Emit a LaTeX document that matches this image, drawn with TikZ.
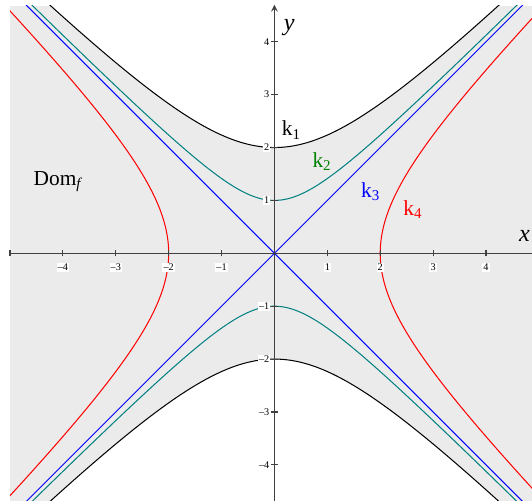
\documentclass[tikz,border=0pt]{standalone}
\usepackage{fontspec}
\setmainfont{Liberation Serif}
\begin{document}
\begin{tikzpicture}[x=1cm,y=1cm,
  curve/.style={line width=0.55pt},
  axis/.style={line width=0.6pt,draw=black!75},
  ticklbl/.style={fill=white,inner sep=0.6pt,font=\fontsize{5.5}{6}\selectfont},
  klbl/.style={font=\fontsize{11.5}{13}\selectfont,inner sep=0pt}]
\useasboundingbox (-5.19,-4.70) rectangle (4.87,4.79);
% domain shading
\fill[black!8] (-5,-4.68) rectangle (4.9,4.68);
\fill[white] plot[domain=-5:4.9,samples=120] (\x,{sqrt(\x*\x+4)}) -- (4.9,4.8) -- (-5,4.8) -- cycle;
\fill[white] plot[domain=-5:4.9,samples=120] (\x,{-sqrt(\x*\x+4)}) -- (4.9,-4.8) -- (-5,-4.8) -- cycle;
\begin{scope}
\clip (-5,-4.68) rectangle (4.87,4.68);
% k1
\draw[curve,black] plot[domain=-5:5,samples=150] (\x,{sqrt(\x*\x+4)});
\draw[curve,black] plot[domain=-5:5,samples=150] (\x,{-sqrt(\x*\x+4)});
% k2
\draw[curve,teal] plot[domain=-5:5,samples=150] (\x,{sqrt(\x*\x+1)});
\draw[curve,teal] plot[domain=-5:5,samples=150] (\x,{-sqrt(\x*\x+1)});
% k3
\draw[curve,blue] (-5,-5) -- (5,5);
\draw[curve,blue] (-5,5) -- (5,-5);
% k4
\draw[curve,red] plot[domain=-5:5,samples=150] ({sqrt(\x*\x+4)},\x);
\draw[curve,red] plot[domain=-5:5,samples=150] ({-sqrt(\x*\x+4)},\x);
\end{scope}
% axes
\coordinate (xs) at (-5,0);
\coordinate (xe) at (5.2,0);
\coordinate (ys) at (0,-4.68);
\coordinate (ye) at (0,4.7);
\draw[axis] (xs) -- (xe);
\draw[axis,-stealth] (ys) -- (ye);
\draw[axis] (-5,-0.06) -- (-5,0.06);
\foreach \i in {-4,-3,-2,-1,1,2,3,4} {
  \draw[axis] (\i,-0.06) -- (\i,0.06);
  \node[ticklbl] (xt\i) at (\i,-0.26) {\ifnum\i<0 –\the\numexpr-\i\relax\else\i\fi};
  \draw[axis] (-0.06,\i) -- (0.06,\i);
  \node[ticklbl,anchor=east] (yt\i) at (-0.07,\i) {\ifnum\i<0 –\the\numexpr-\i\relax\else\i\fi};
}
\node[font=\fontsize{13}{15}\selectfont\itshape] (ylab) at (0.28,4.27) {y};
\node[font=\fontsize{13}{15}\selectfont\itshape,anchor=east,inner sep=1pt] (xlab) at (4.87,0.33) {x};
% labels
\node[klbl,black] (k1) at (0.32,2.33) {k\textsubscript{1}};
\node[klbl,green!50!black] (k2) at (0.9,1.73) {k\textsubscript{2}};
\node[klbl,blue] (k3) at (1.82,1.17) {k\textsubscript{3}};
\node[klbl,red] (k4) at (2.62,0.83) {k\textsubscript{4}};
\node[font=\fontsize{11.5}{13}\selectfont] (dom) at (-4.1,1.36) {Dom\textsubscript{\itshape f}};
\end{tikzpicture}
\end{document}
